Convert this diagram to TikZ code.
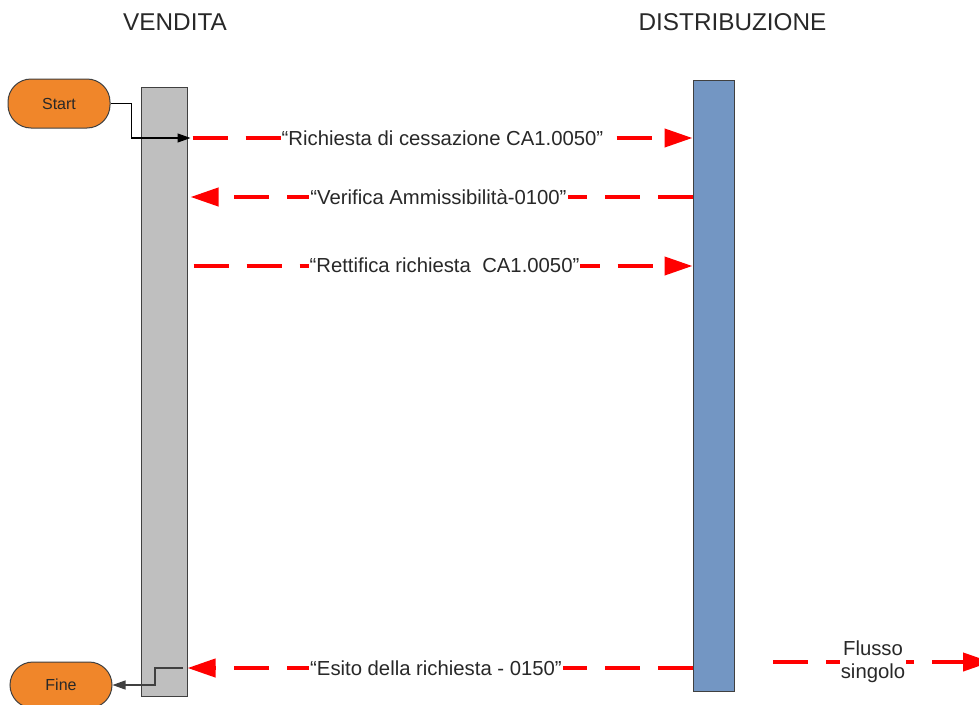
\documentclass[tikz,border=0pt]{standalone}
\usepackage{fontspec}
\setmainfont{Liberation Sans}
\usetikzlibrary{arrows.meta}
\definecolor{barGray}{RGB}{191,191,191}
\definecolor{barBlue}{RGB}{115,150,195}
\definecolor{startOrange}{RGB}{240,134,42}
\definecolor{edgeDark}{RGB}{64,64,64}
\definecolor{txt}{RGB}{40,40,40}
\definecolor{msgRed}{RGB}{255,0,0}
\begin{document}
\begin{tikzpicture}[x=1pt,y=-1pt,
  title/.style={font=\fontsize{24.3}{28}\selectfont, text=txt, inner sep=0pt},
  lbl/.style={font=\fontsize{20.3}{23}\selectfont, text=txt, fill=white, inner xsep=1pt, inner ysep=1pt},
  msg/.style={draw=msgRed, line width=4pt, dash pattern=on 35pt off 18pt, -{Triangle[length=28pt,width=18pt]}},
  lane/.style={draw=edgeDark, line width=1pt, inner sep=0pt},
  term/.style={draw=edgeDark, line width=1pt, fill=startOrange, rounded corners=23pt, minimum width=102pt, inner sep=0pt, font=\fontsize{16}{19}\selectfont, text=txt},
  conn/.style={line width=1.2pt, -{Triangle[length=13pt,width=9pt]}}
]
\fill[white] (0,0) rectangle (979,704);
\useasboundingbox (0,0) rectangle (979,704);

% titles
\node[title] (tv) at (175,22) {VENDITA};
\node[title] (td) at (732.5,22) {DISTRIBUZIONE};

% lanes
\node[lane, fill=barGray, minimum width=46pt, minimum height=609pt] (gray) at (164,391.5) {};
\node[lane, fill=barBlue, minimum width=41pt, minimum height=611pt] (blue) at (713.5,385.5) {};

% terminals
\node[term, minimum height=49pt] (start) at (59,103.5) {Start};
\node[term, minimum height=46pt] (fine) at (61,685) {Fine};

% level coordinates
\coordinate (y1) at (0,138);
\coordinate (y2) at (0,197);
\coordinate (y3) at (0,266);
\coordinate (y4) at (0,668);

% start connector
\draw[conn, draw=black] (start.east) -- ++(21,0) |- ([xshift=3pt]gray.east |- y1);

% messages
\draw[msg] ([xshift=5pt]gray.east |- y1) -- (blue.west |- y1);
\node[lbl] (m1) at (442.5,138) {“Richiesta di cessazione CA1.0050”};

\draw[msg] (blue.west |- y2) -- ([xshift=3pt]gray.east |- y2);
\node[lbl] (m2) at (438.5,197) {“Verifica Ammissibilità-0100”};

\draw[msg] ([xshift=6pt]gray.east |- y3) -- (blue.west |- y3);
\node[lbl] (m3) at (444.5,265) {“Rettifica richiesta\hspace{0.56em}CA1.0050”};

\draw[msg] (blue.west |- y4) -- (gray.east |- y4);
\node[lbl] (m4) at (436,668) {“Esito della richiesta - 0150”};

% fine connector
\coordinate (fs) at (183,668);
\draw[conn, draw=edgeDark] (fs) -- (155,668) |- (fine.east);

% legend
\coordinate (lg1) at (773,662);
\coordinate (lg2) at (991,662);
\draw[msg] (lg1) -- (lg2);
\node[lbl, align=center] (lgt) at (873,662) {Flusso\\singolo};
\end{tikzpicture}
\end{document}
